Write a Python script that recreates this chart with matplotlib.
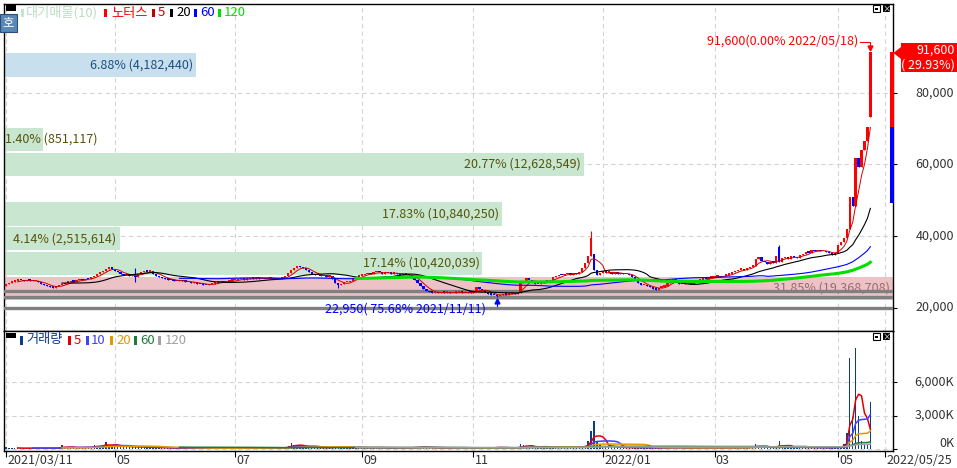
import numpy as np
import pandas as pd
import matplotlib
matplotlib.use('Agg')
import matplotlib.pyplot as plt
from matplotlib.patches import Rectangle, Polygon

plt.rcParams['font.family'] = ['Noto Sans CJK KR', 'DejaVu Sans']
plt.rcParams['font.size'] = 9

W, H = 957, 468

# KRX trading calendar
holidays = ['2021-05-05', '2021-05-19', '2021-08-16', '2021-09-20', '2021-09-21', '2021-09-22',
            '2021-10-04', '2021-10-11', '2021-12-31', '2022-01-31', '2022-02-01', '2022-02-02',
            '2022-03-01', '2022-03-09', '2022-05-05']
days = pd.bdate_range('2021-03-11', '2022-05-25', freq='C', holidays=holidays)

# daily closes (won)
c_2103 = [26500, 26900, 27200, 27500, 27700, 27600, 27400, 27700, 27500, 27300, 27400, 27000, 26600, 26300, 26000]
c_2104 = [25700, 25500, 25900, 26300, 26600, 26900, 27000, 27300, 27200, 27600, 27900, 27700, 28100, 28000, 28500,
          28900, 29300, 29800, 30300, 30800, 31300, 30700]
c_2105 = [30200, 29800, 29300, 29000, 29300, 28900, 29100, 28600, 29400, 29900, 30200, 30000, 30100, 29500, 28900,
          28500, 28200, 28000, 27800]
c_2106 = [27600, 27500, 27300, 27700, 27400, 27200, 27000, 26800, 27100, 26700, 26500, 26400, 26200, 26500, 26700,
          26900, 27100, 27300, 27000, 27200, 27500, 27600]
c_2107 = [27700, 27900, 28100, 27800, 28000, 28200, 28100, 28400, 28000, 28000, 27900, 28100, 28200, 28000, 27900,
          28100, 28300, 28800, 29600, 30500, 31000, 31600]
c_2108 = [31200, 31000, 30600, 29900, 29300, 29000, 29100, 28800, 28900, 28600, 28700, 28000, 26800, 26200, 26600,
          27000, 27100, 27400, 28200, 28600, 28900]
c_2109 = [29100, 29300, 29600, 29400, 29800, 30000, 29800, 29500, 29700, 29600, 29500, 29700, 29400, 29200, 29400,
          29300, 29000, 28200, 27600]
c_2110 = [26800, 26000, 25200, 24600, 24300, 24100, 24200, 24000, 24300, 24100, 24200, 24000, 24100, 24200, 24300,
          24100, 24000, 24200, 24100]
c_2111 = [24300, 25600, 25200, 24800, 24300, 23900, 23600, 23400, 23200, 23500, 23800, 23600, 23900, 24100, 23800,
          24000, 26800, 27500, 28200, 27600, 27000, 26600]
c_2112 = [26500, 26900, 27400, 27200, 27800, 28400, 28800, 29100, 29000, 29300, 29500, 29200, 29600, 29400, 29800,
          31000, 32500, 34500, 39500, 30500, 29000, 29600]
c_2201 = [30200, 29700, 30000, 29500, 29800, 29400, 29600, 29300, 29500, 29100, 28500, 27600, 26800, 26200, 26400,
          25900, 25600, 25300, 25000, 25500]
c_2202 = [25800, 26100, 26800, 27600, 27900, 27400, 26700, 26500, 26800, 27000, 26600, 27100, 27500, 27800, 28100,
          27900, 28300, 28500]
c_2203 = [28600, 28800, 28500, 28900, 29200, 29500, 29800, 30200, 30600, 30800, 30400, 31000, 31400, 31700, 33500,
          34200, 33000, 32600, 32200, 32800, 32500]
c_2204 = [34500, 32800, 33800, 34200, 33600, 34500, 34000, 33800, 34600, 35100, 35600, 35300, 36000, 35800, 36200,
          35700, 35900, 35400, 35200, 34600, 35300]
c_2205 = [37500, 38300, 39500, 42000, 50900, 48500, 61800, 59300, 64000, 66500, 70500, 91600]

first_open = 26000
open_gap = {200: 35000, 263: 36900, 294: 73300}
wick_hi = {44: 31000, 199: 41500, 263: 37400}
wick_lo = {44: 27100, 113: 25500, 167: 22950}

# daily volume (thousand shares)
v_2103 = [180, 150, 120, 140, 110, 130, 100, 120, 150, 110, 100, 130, 120, 110, 140]
v_2104 = [120, 110, 150, 130, 420, 200, 160, 180, 150, 200, 170, 160, 180, 200, 260, 420, 300, 280, 350, 650, 400, 300]
v_2105 = [380, 300, 260, 240, 300, 220, 200, 260, 230, 250, 200, 180, 170, 210, 180, 160, 150, 140, 130]
v_2106 = [130, 120, 140, 110, 100, 120, 130, 110, 100, 120, 110, 100, 130, 120, 110, 100, 120, 140, 130, 110, 120, 130]
v_2107 = [120, 130, 110, 150, 140, 120, 130, 110, 120, 140, 130, 120, 110, 130, 150, 140, 160, 200, 300, 550, 400, 350]
v_2108 = [300, 250, 220, 200, 180, 200, 160, 150, 170, 140, 160, 250, 300, 220, 180, 160, 150, 170, 200, 180, 160]
v_2109 = [170, 160, 150, 180, 200, 170, 150, 160, 140, 130, 150, 140, 160, 130, 120, 140, 150, 200, 220]
v_2110 = [250, 230, 200, 180, 150, 130, 120, 110, 100, 120, 110, 100, 120, 110, 100, 110, 120, 100, 110]
v_2111 = [120, 200, 150, 130, 140, 160, 150, 170, 250, 180, 150, 140, 130, 120, 130, 140, 500, 400, 300, 250, 200, 180]
v_2112 = [170, 160, 180, 200, 220, 200, 250, 230, 200, 180, 190, 200, 180, 220, 250, 300, 350, 760, 1650, 2500, 700, 400]
v_2201 = [350, 300, 250, 220, 200, 180, 170, 160, 150, 170, 150, 160, 200, 180, 150, 140, 130, 150, 140, 130]
v_2202 = [140, 150, 200, 180, 160, 150, 140, 130, 150, 140, 130, 120, 140, 130, 150, 140, 130, 150]
v_2203 = [140, 150, 130, 160, 150, 170, 180, 200, 190, 180, 170, 200, 190, 220, 500, 300, 250, 200, 180, 170, 160]
v_2204 = [200, 760, 300, 250, 220, 200, 180, 200, 190, 180, 170, 160, 180, 170, 160, 150, 170, 160, 150, 200, 180]
v_2205 = [250, 350, 500, 1450, 8100, 2900, 9000, 3000, 750, 500, 500, 4200]

# volume profile (대기매물), bands from bottom to top
band_lo, band_hi = 22100, 91500
band_pct = [31.85, 17.14, 4.14, 17.83, 0, 20.77, 1.40, 0, 0, 6.88]
band_vol = [19368708, 10420039, 2515614, 10840250, 0, 12628549, 851117, 0, 0, 4182440]

gray_levels = [24600, 22950, 19900]
hi_price, hi_pct, hi_date = 91600, 0.00, '2022/05/18'
lo_price, lo_pct, lo_date = 22950, 75.68, '2021/11/11'
day_low_mark = 49300

tick_dates = ['2021-03-11', '2021-05-01', '2021-07-01', '2021-09-01', '2021-11-01',
              '2022-01-01', '2022-03-01', '2022-05-01', '2022-05-25']
tick_labels = ['2021/03/11', '05', '07', '09', '11', '2022/01', '03', '05', '2022/05/25']
price_ticks = [20000, 40000, 60000, 80000]
vol_ticks = [0, 3000, 6000]

close = np.array(sum([c_2103, c_2104, c_2105, c_2106, c_2107, c_2108, c_2109, c_2110, c_2111, c_2112,
                      c_2201, c_2202, c_2203, c_2204, c_2205], []), dtype=float)
vol = np.array(sum([v_2103, v_2104, v_2105, v_2106, v_2107, v_2108, v_2109, v_2110, v_2111, v_2112,
                    v_2201, v_2202, v_2203, v_2204, v_2205], []), dtype=float)
n = len(close)
x = np.arange(n)
opn = np.r_[first_open, close[:-1]]
for k, v in open_gap.items():
    opn[k] = v
hi = np.maximum(opn, close)
lo = np.minimum(opn, close)
for k, v in wick_hi.items():
    hi[k] = v
for k, v in wick_lo.items():
    lo[k] = v
tick_idx = [int(days.searchsorted(pd.Timestamp(d))) for d in tick_dates]

# layout helpers (pixels)
xmin, xmax = -0.68, 301.7
ppd = 889 / (xmax - xmin)


def px2x(px):
    return xmin + (px - 4) / ppd


def py2p(py):
    return 40000 + (236 - py) * 279.7


def frect(x0, y0, x1, y1, **kw):
    fig.add_artist(Rectangle((x0 / W, 1 - y1 / H), (x1 - x0) / W, (y1 - y0) / H,
                             transform=fig.transFigure, **kw))


def ftext(px, py, s, **kw):
    fig.text(px / W, 1 - py / H, s, **kw)


fig = plt.figure(figsize=(W / 100, H / 100), dpi=100)
ax = fig.add_axes([4 / W, 1 - 330.5 / H, 889 / W, 327 / H])
axv = fig.add_axes([4 / W, 1 - 451 / H, 889 / W, 120.5 / H])

grid_kw = dict(color='#d4d4d4', ls=(0, (4, 3)), lw=0.8)
for a in (ax, axv):
    a.set_xlim(xmin, xmax)
    a.set_xticks(tick_idx)
    a.set_axisbelow(True)
    a.grid(True, **grid_kw)
    a.yaxis.tick_right()
    a.tick_params(axis='y', length=3, width=0.8, labelright=False, labelleft=False)
    for sp in a.spines.values():
        sp.set_linewidth(1.0)
ax.tick_params(axis='x', length=0, labelbottom=False)
axv.tick_params(axis='x', length=4.3, width=0.8, labelbottom=False)

# ---- price panel
ax.set_ylim(py2p(330.5), py2p(3.5))
ax.set_yticks(price_ticks)

step = (band_hi - band_lo) / 10
pmax = max(band_pct)
cur_band = min(int((close[-1] - band_lo) // step), 9)
for k, (pct, bv) in enumerate(zip(band_pct, band_vol)):
    if pct == 0:
        continue
    if pct == pmax:
        fc, tc = '#ecc2c6', '#9a6a6a'
    elif k == cur_band:
        fc, tc = '#c8e0ee', '#1f4f80'
    else:
        fc, tc = '#c8e6d0', '#55550a'
    y0 = band_lo + k * step
    h = step - 1.4 * 279.7
    wd = pct / pmax * (xmax - xmin)
    ax.add_patch(Rectangle((xmin, y0), wd, h, facecolor=fc, lw=0, zorder=1))
    s = f'{pct:.2f}% ({bv:,})'
    if len(s) * 6.1 + 8 < wd * ppd:
        ax.annotate(s, (xmin + wd, y0 + h / 2), xytext=(-3, 0), textcoords='offset pixels',
                    ha='right', va='center', color=tc, zorder=2)
    else:
        ax.annotate(s, (xmin, y0 + h / 2), xytext=(1, 0), textcoords='offset pixels',
                    ha='left', va='center', color=tc, zorder=2)

for g in gray_levels:
    ax.axhline(g, color='#808080', lw=2.4, zorder=3)

up = close >= opn
cols = np.where(up, '#ff0000', '#0000ff')
ax.vlines(x, lo, hi, colors=cols, lw=0.8, zorder=4)
ax.bar(x, np.maximum(np.abs(close - opn), 380), bottom=np.minimum(opn, close), width=0.8,
       color=cols, lw=0, zorder=4)

s_close = pd.Series(close)
for w, c, lw in [(5, '#d00000', 0.7), (20, 'black', 0.8), (60, '#0000ff', 0.8), (120, '#00e000', 2.2)]:
    ax.plot(x, s_close.rolling(w).mean(), color=c, lw=lw, zorder=5)

# high / low marks
ax.text(px2x(858), py2p(41), f'{hi_price:,}({hi_pct:.2f}% {hi_date})', color='#ff0000',
        ha='right', va='center', zorder=7)
ax.plot([px2x(860), n - 1, n - 1], [py2p(41.5), py2p(41.5), py2p(47)], color='#ff0000', lw=0.8, zorder=7)
ax.plot(n - 1, py2p(48), marker='v', ms=3.5, color='#ff0000', zorder=7)
lo_i = int(np.argmin(lo))
ax.text(px2x(486), py2p(309), f'{lo_price:,}( {lo_pct:.2f}% {lo_date})', color='#0000ff',
        ha='right', va='center', zorder=7)
ax.plot([lo_i, lo_i], [py2p(306), py2p(301)], color='#0000ff', lw=0.8, zorder=7)
ax.plot(lo_i, py2p(301), marker='^', ms=3.5, color='#0000ff', zorder=7)

# current price bar on the axis
prev_close = close[-2]
bw = px2x(894) - px2x(890.5)
ax.add_patch(Rectangle((px2x(890.5), prev_close), bw, close[-1] - prev_close, color='#ff0000',
                       lw=0, clip_on=False, zorder=8))
ax.add_patch(Rectangle((px2x(890.5), day_low_mark), bw, prev_close - day_low_mark, color='#0000ff',
                       lw=0, clip_on=False, zorder=8))

for p in price_ticks:
    ax.text(1 + 61 / 889, p, f'{p:,}', transform=ax.get_yaxis_transform(), ha='right', va='center',
            color='#333333')

chg = (close[-1] / prev_close - 1) * 100
frect(901, 43, 957, 72, color='#ff0000', lw=0)
fig.add_artist(Polygon([(893.5 / W, 1 - 53 / H), (901 / W, 1 - 47 / H), (901 / W, 1 - 59 / H)],
                       closed=True, color='#ff0000', lw=0, transform=fig.transFigure))
ftext(955, 50, f'{close[-1]:,.0f}', color='white', ha='right', va='center')
ftext(955, 65, f'( {chg:.2f}%)', color='white', ha='right', va='center')

# ---- volume panel
axv.set_ylim(-133, (449.5 - 330.5) * 88.5)
axv.set_yticks(vol_ticks)
axv.bar(x, vol, width=0.45, color='#0a3c8c', lw=0, zorder=3)
s_vol = pd.Series(vol)
for w, c in [(5, '#e00000'), (10, '#4040ff'), (20, '#e09a00'), (60, '#1e7a3c'), (120, '#a0a0a0')]:
    axv.plot(x, s_vol.rolling(w).mean(), color=c, lw=1.1, zorder=4)
for v in vol_ticks:
    yv = v if v > 0 else 5.5 * 88.5
    axv.text(1 + 61 / 889, yv, f'{v:,}K', transform=axv.get_yaxis_transform(), ha='right',
             va='center', color='#333333')
for i, lab in zip(tick_idx, tick_labels):
    axv.text(i + 0.4, -0.075, lab, transform=axv.get_xaxis_transform(), ha='left', va='center',
             color='#333333')

# ---- legends and buttons
frect(6, 5, 16, 10.5, color='black', lw=0)
items = [(20.5, '#c8e4cc', 26, '대기매물(10)', '#bcdcc4'), (104, '#ff0000', 111, '노터스', '#ff0000'),
         (152, '#c00000', 158, '5', '#c00000'), (170, 'black', 176, '20', 'black'),
         (194, '#0000ff', 200, '60', '#0000ff'), (218, '#00e000', 224, '120', '#00e000')]
for mx, mc, tx, s, tc in items:
    frect(mx, 9, mx + 3, 17, color=mc, lw=0)
    ftext(tx, 13, s, color=tc, ha='left', va='center', fontsize=9.5)

frect(0, 14, 17, 32, facecolor='#5b87b5', edgecolor='#2c4f78', lw=0.8)
ftext(8.5, 23, '호', color='white', ha='center', va='center', fontsize=9)

frect(6, 333, 16, 337.5, color='black', lw=0)
vitems = [(20, '#0a3c8c', 26, '거래량'), (68, '#e00000', 74, '5'), (86, '#4040ff', 91, '10'),
          (110, '#e09a00', 116, '20'), (134, '#1e7a3c', 140, '60'), (158, '#a0a0a0', 165, '120')]
for mx, mc, tx, s in vitems:
    frect(mx, 336, mx + 2.5, 345, color=mc, lw=0)
    ftext(tx, 340, s, color=mc, ha='left', va='center', fontsize=9.5)

for yy in (5, 333):
    frect(873, yy, 880, yy + 7, facecolor='white', edgecolor='black', lw=0.8)
    frect(875, yy + 3, 878, yy + 5, color='black', lw=0)
    frect(883, yy, 890, yy + 7, color='black', lw=0)
    ftext(886.5, yy + 3.5, '×', color='white', ha='center', va='center', fontsize=6)

fig.savefig('out.png', dpi=100)
